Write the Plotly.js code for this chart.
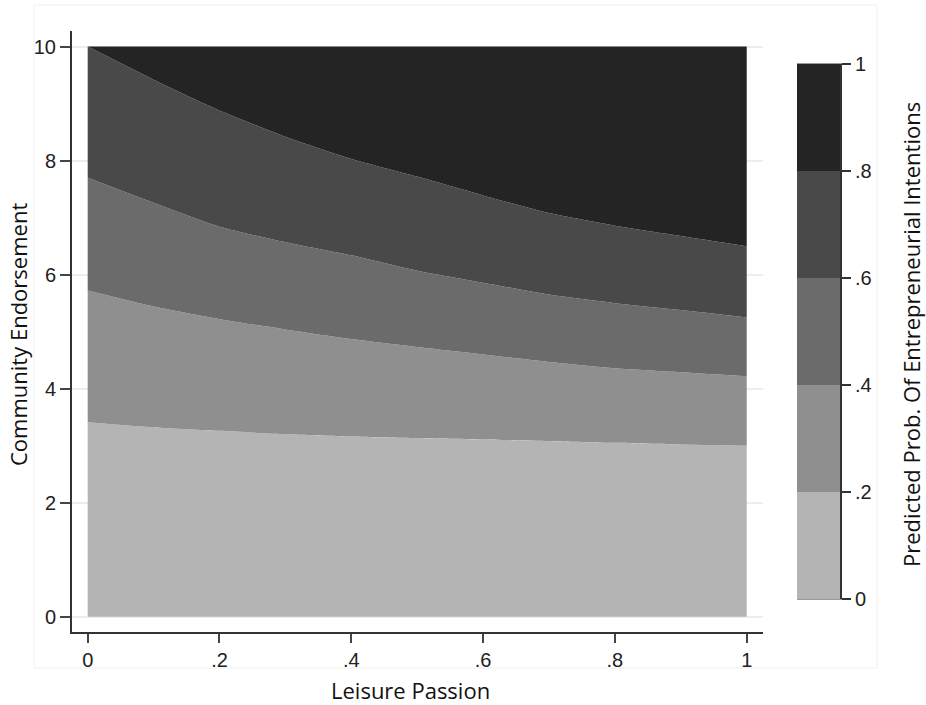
<!DOCTYPE html>
<html>
<head>
<meta charset="utf-8">
<script src="https://cdn.plot.ly/plotly-3.0.1.min.js"></script>
<style>html,body{margin:0;padding:0;background:#fff;}#chart{width:926px;height:705px;}</style>
</head>
<body>
<div id="chart"></div>
<script>
// Leisure Passion grid (x) and the contour boundary heights (Community Endorsement)
const passion = [0, 0.1, 0.2, 0.3, 0.4, 0.5, 0.6, 0.7, 0.8, 0.9, 1.0];
const edge02 = [3.41, 3.32, 3.26, 3.20, 3.16, 3.13, 3.11, 3.08, 3.05, 3.02, 3.00];
const edge04 = [5.72, 5.44, 5.22, 5.04, 4.87, 4.73, 4.60, 4.47, 4.36, 4.29, 4.22];
const edge06 = [7.70, 7.26, 6.84, 6.57, 6.34, 6.07, 5.86, 5.65, 5.50, 5.38, 5.25];
const edge08 = [10.0, 9.42, 8.88, 8.42, 8.03, 7.72, 7.39, 7.08, 6.86, 6.68, 6.50];
const yMin = 0, yMax = 10;

// probability levels
const levels = [0, 0.2, 0.4, 0.6, 0.8, 1.0];
const levelLabels = ["0", ".2", ".4", ".6", ".8", "1"];
const bandColors = ["#b4b4b4", "#8f8f8f", "#6b6b6b", "#494949", "#242424"];

const xTickVals = [0, 0.2, 0.4, 0.6, 0.8, 1];
const xTickText = ["0", ".2", ".4", ".6", ".8", "1"];
const yTickVals = [0, 2, 4, 6, 8, 10];

const edges = [passion.map(() => yMin), edge02, edge04, edge06, edge08, passion.map(() => yMax)];

const traces = [];
edges.forEach((e, i) => {
  traces.push({
    type: "scatter", mode: "lines", x: passion, y: e,
    line: {width: 0, shape: "spline", smoothing: 0.6},
    fill: i === 0 ? "none" : "tonexty",
    fillcolor: i === 0 ? undefined : bandColors[i - 1],
    hoverinfo: "skip", showlegend: false, xaxis: "x", yaxis: "y"
  });
});

// color legend bar built from the level values
for (let i = 0; i < bandColors.length; i++) {
  traces.push({
    type: "bar", x: ["k"], y: [levels[i + 1] - levels[i]], base: [levels[i]],
    marker: {color: bandColors[i], line: {width: 0}},
    width: 1, showlegend: false, hoverinfo: "skip", xaxis: "x2", yaxis: "y2"
  });
}

const W = 926, H = 705;
const px = v => v / W, py = v => 1 - v / H;
const tickFont = {family: "Liberation Sans, Arial, sans-serif", size: 20, color: "#222"};
const titleFont = {family: "Open Sans, Noto Sans, sans-serif", size: 22, color: "#111"};

const layout = {
  width: W, height: H,
  margin: {l: 0, r: 0, t: 0, b: 0},
  paper_bgcolor: "#fff", plot_bgcolor: "#fff",
  showlegend: false,
  barmode: "overlay",
  xaxis: {
    domain: [px(72), px(763)], range: [-0.0238, 1.0247],
    tickvals: xTickVals, ticktext: xTickText,
    ticks: "outside", ticklen: 9, tickwidth: 2, tickcolor: "#444",
    showline: true, linecolor: "#333", linewidth: 2,
    showgrid: false, zeroline: false, tickfont: tickFont,
    anchor: "y", automargin: false
  },
  yaxis: {
    domain: [py(632), py(31)], range: [-0.268, 10.274],
    tickvals: yTickVals, ticktext: yTickVals.map(String),
    ticks: "outside", ticklen: 10, tickwidth: 2, tickcolor: "#444",
    showline: true, linecolor: "#333", linewidth: 2,
    showgrid: true, gridcolor: "#e6f0f2", gridwidth: 2,
    zeroline: false, tickfont: tickFont, anchor: "x", automargin: false
  },
  xaxis2: {
    domain: [px(797), px(840)], range: [-0.5, 0.5], anchor: "y2",
    showticklabels: false, ticks: "", showgrid: false, zeroline: false,
    showline: true, mirror: true, linecolor: "#9a9a9a", linewidth: 1
  },
  yaxis2: {
    domain: [py(599), py(64)], range: [0, 1], anchor: "x2", side: "right",
    tickvals: levels, ticktext: levelLabels,
    ticks: "outside", ticklen: 9, tickwidth: 2, tickcolor: "#333",
    showline: true, linecolor: "#333", linewidth: 2,
    showgrid: false, zeroline: false, tickfont: tickFont, automargin: false
  },
  annotations: [
    {text: "Leisure Passion", xref: "paper", yref: "paper", x: px(410), y: py(690),
     showarrow: false, font: titleFont, xanchor: "center", yanchor: "middle"},
    {text: "Community Endorsement", xref: "paper", yref: "paper", x: px(18), y: py(335),
     showarrow: false, font: titleFont, textangle: -90, xanchor: "center", yanchor: "middle"},
    {text: "Predicted Prob. Of Entrepreneurial Intentions", xref: "paper", yref: "paper",
     x: px(911), y: py(335), showarrow: false, font: titleFont, textangle: -90,
     xanchor: "center", yanchor: "middle"}
  ],
  shapes: [
    {type: "rect", xref: "paper", yref: "paper", x0: px(34), x1: px(877), y0: py(668), y1: py(5),
     line: {color: "#f0f0f0", width: 1}, layer: "below"}
  ]
};

Plotly.newPlot("chart", traces, layout, {displayModeBar: false, staticPlot: true});
</script>
</body>
</html>
